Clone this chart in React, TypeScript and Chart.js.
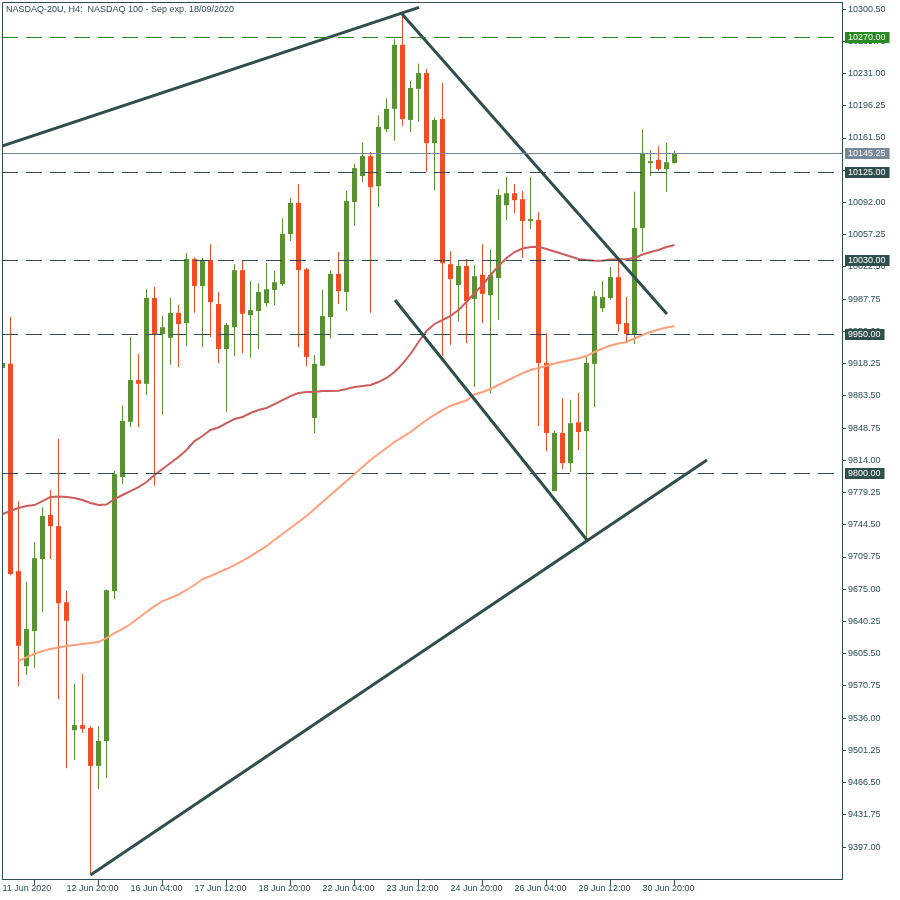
import React, { useEffect, useRef } from "react";
import { Chart, registerables } from "chart.js";

Chart.register(...registerables);

const title = "NASDAQ-20U, H4:  NASDAQ 100 - Sep exp. 18/09/2020";

const xTickIdx = [0, 8, 16, 24, 32, 40, 48, 56, 64, 72, 80];
const xTickLabels = [
  "11 Jun 2020", "12 Jun 20:00", "16 Jun 04:00", "17 Jun 12:00", "18 Jun 20:00",
  "22 Jun 04:00", "23 Jun 12:00", "24 Jun 20:00", "26 Jun 04:00", "29 Jun 12:00", "30 Jun 20:00",
];

const yTicks = [
  9397.0, 9431.75, 9466.5, 9501.25, 9536.0, 9570.75, 9605.5, 9640.25, 9675.0, 9709.75,
  9744.5, 9779.25, 9814.0, 9848.75, 9883.5, 9918.25, 9953.0, 9987.75, 10022.5, 10057.25,
  10092.0, 10126.75, 10161.5, 10196.25, 10231.0, 10265.75, 10300.5,
];

const opens = [
  9913.5, 9918, 9694.5, 9592, 9630, 9707.5, 9755, 9743, 9661, 9523,
  9528.5, 9525.5, 9484.5, 9511.5, 9673, 9796, 9855.5, 9900.5, 9896.5, 9989,
  9950, 9946, 9973, 9962, 10031, 10002, 10030, 9982.5, 9934, 9957.5,
  10019, 9970.5, 9975, 9983.5, 9997.5, 10004, 10058, 10091.5, 10020, 9859.5,
  9916, 9968.5, 10015, 9995.5, 10092.5, 10120.5, 10142, 10109.5, 10171, 10193,
  10262, 10181, 10214.5, 10231.5, 10156, 10182, 10025.5, 10003, 10023.5, 9988,
  10014, 9992, 10010.5, 10089, 10102, 10095.5, 10072, 10073, 9919, 9781,
  9843.5, 9811, 9855, 9845.5, 9918, 9978, 9989, 10011.5, 9962, 9950,
  10064.5, 10134.5, 10138, 10128, 10134.5,
];
const highs = [
  9921, 9968.5, 9770, 9683, 9726, 9763.5, 9782, 9837, 9673, 9573,
  9583.5, 9527.5, 9527.5, 9675, 9802.5, 9873.5, 9947, 9928.5, 9998.5, 10001,
  9969.5, 9989, 9981.5, 10037.5, 10033, 10032, 10047, 9995.5, 9962, 10025.5,
  10029, 10007.5, 10005, 10026.5, 10018, 10075, 10097, 10112, 10021.5, 9927.5,
  9997.5, 10019, 10038.5, 10104.5, 10133.5, 10157, 10146.5, 10186, 10204.5, 10268,
  10296.5, 10223, 10241.5, 10236, 10184, 10221, 10039.5, 10030, 10031, 10024.5,
  10047, 10041, 10106.5, 10119.5, 10112, 10104.5, 10119.5, 10081.5, 9951, 9845.5,
  9881, 9879, 9886.5, 9925.5, 9996.5, 10007.5, 10022.5, 10030, 9990, 10103.5,
  10171, 10148.5, 10153, 10156, 10148,
];
const lows = [
  9911, 9690, 9570.5, 9582.5, 9590, 9650.5, 9707.5, 9556.5, 9482, 9491,
  9520, 9369, 9459.5, 9471.5, 9664.5, 9788.5, 9850, 9850, 9884.5, 9786.5,
  9863, 9917, 9914.5, 9937, 9973, 9936, 9947, 9919, 9866, 9926.5,
  9929.5, 9924.5, 9934, 9979.5, 9981.5, 10002, 10050.5, 9936, 9915.5, 9843.5,
  9915.5, 9945, 9982.5, 9975, 10066.5, 10114, 9973, 10087, 10168, 10158.5,
  10174.5, 10168, 10179, 10125, 10105.5, 9926.5, 9938.5, 9964, 9940.5, 9893,
  9962, 9886.5, 9965.5, 10073, 10080.5, 10032, 10063.5, 9851, 9824, 9780.5,
  9804.5, 9801.5, 9825, 9729, 9871.5, 9974, 9987, 9952.5, 9942.5, 9939.5,
  10038.5, 10120.5, 10126, 10103.5, 10134,
];
const closes = [
  9919, 9691.5, 9614, 9632, 9708.5, 9754, 9743, 9660, 9641, 9528.5,
  9524.5, 9484.5, 9511.5, 9674, 9799, 9856.5, 9900.5, 9896.5, 9989, 9950,
  9957.5, 9973, 9961, 10031, 10002, 10030, 9984.5, 9934, 9960, 10019,
  9972, 9976, 9995.5, 9998.5, 10006, 10058, 10091.5, 10019, 9925.5, 9918,
  9969.5, 10015, 9996.5, 10093.5, 10129, 10142, 10108.5, 10173.5, 10193, 10262,
  10182, 10215.5, 10231.5, 10156, 10181, 10026.5, 10009.5, 10023.5, 9985.5, 10012.5,
  9993.5, 10014, 10100, 10102, 10094.5, 10072, 10074, 9919, 9843.5, 9843.5,
  9811, 9854, 9844.5, 9919, 9991, 9990, 10011.5, 9961, 9950, 10064.5,
  10145.5, 10136.5, 10128, 10135.5, 10145.25,
];

const maFast = [
  9756.1, 9759.4, 9762.6, 9764.7, 9765.8, 9770.1, 9774.5, 9775.0, 9774.5, 9773.4,
  9771.2, 9768.0, 9765.8, 9766.4, 9772.3, 9776.6, 9780.9, 9785.2, 9790.6, 9798.2,
  9804.6, 9811.1, 9817.6, 9825.1, 9834.8, 9840.2, 9846.7, 9849.4, 9854.2, 9858.5,
  9860.7, 9865.0, 9868.3, 9870.4, 9874.7, 9879.0, 9883.3, 9886.6, 9887.7, 9887.7,
  9888.7, 9888.7, 9889.1, 9890.9, 9893.1, 9894.1, 9895.2, 9898.4, 9902.8, 9909.2,
  9917.9, 9928.6, 9941.6, 9953.4, 9961.0, 9965.3, 9969.6, 9976.1, 9984.7, 9994.4,
  10003.0, 10013.8, 10023.5, 10032.1, 10038.6, 10042.4, 10044.0, 10044.3, 10041.8, 10039.1,
  10036.4, 10033.8, 10031.1, 10030.0, 10029.2, 10029.2, 10030.5, 10030.7, 10030.7, 10032.1,
  10035.9, 10038.6, 10040.8, 10044.0, 10046.2,
];
const maSlow = [
  null, null, 9597.6, 9601.9, 9605.2, 9608.4, 9610.6, 9612.2, 9613.8, 9614.9,
  9616.0, 9617.0, 9618.1, 9622.4, 9627.8, 9632.1, 9637.5, 9644.0, 9650.5, 9656.9,
  9662.3, 9665.6, 9669.3, 9674.2, 9679.6, 9686.0, 9689.3, 9693.1, 9696.8, 9701.1,
  9705.5, 9710.8, 9716.2, 9721.6, 9728.1, 9734.6, 9741.0, 9747.5, 9754.0, 9761.5,
  9769.1, 9776.6, 9784.2, 9791.7, 9799.3, 9806.8, 9814.3, 9820.8, 9827.3, 9833.8,
  9839.1, 9844.5, 9851.0, 9857.5, 9862.9, 9868.3, 9872.6, 9875.8, 9878.5, 9885.0,
  9887.7, 9890.9, 9895.2, 9899.5, 9903.8, 9908.1, 9911.4, 9913.5, 9916.0, 9918.4,
  9920.3, 9922.2, 9924.0, 9926.5, 9930.8, 9934.6, 9937.8, 9940.0, 9941.6, 9945.3,
  9949.1, 9952.4, 9955.0, 9957.2, 9958.8,
];

// trend lines: [bar index, price] pairs
const trendUpperLeft = [[-0.0625, 10152.9], [52.06, 10302.4]];
const trendFallHigh = [[49.94, 10295.2], [83.06, 9971.8]];
const trendFallLow = [[49.06, 9986.85], [73.06, 9728.1]];
const trendRiseLow = [[11.0, 9366.9], [88.06, 9814.3]];

const levels = [10270.0, 10125.0, 10030.0, 9950.0, 9800.0];
const levelColors = ["#2a8a22", "#2f4f4f", "#2f4f4f", "#2f4f4f", "#2f4f4f"];
const currentPrice = 10145.25;

const X_MIN = -0.0625;
const X_MAX = 104.9375;
const Y_MIN = 9362.6;
const Y_MAX = 10308.14;

const BULL = "#5a9132";
const BEAR = "#f44d26";
const SLATE = "#2f4f4f";
const FONT = "Liberation Sans";

const candleColor = (i: number) => (closes[i] >= opens[i] ? BULL : BEAR);

const decorPlugin = {
  id: "decor",
  afterDatasetsDraw(chart: any) {
    const { ctx, chartArea: a, scales } = chart;
    const ys = scales.y;
    ctx.save();
    ctx.beginPath();
    ctx.rect(a.left, a.top, a.right - a.left, a.bottom - a.top);
    ctx.clip();
    ctx.lineWidth = 1;
    levels.forEach((lv, k) => {
      const py = Math.round(ys.getPixelForValue(lv)) + 0.5;
      ctx.strokeStyle = levelColors[k];
      ctx.setLineDash([16, 8]);
      ctx.beginPath();
      ctx.moveTo(a.left, py);
      ctx.lineTo(a.right, py);
      ctx.stroke();
    });
    ctx.setLineDash([]);
    const cp = Math.round(ys.getPixelForValue(currentPrice)) + 0.5;
    ctx.strokeStyle = "#778899";
    ctx.beginPath();
    ctx.moveTo(a.left, cp);
    ctx.lineTo(a.right, cp);
    ctx.stroke();
    ctx.restore();
  },
  afterDraw(chart: any) {
    const { ctx, chartArea: a, scales } = chart;
    const ys = scales.y;
    ctx.save();
    // frame
    ctx.strokeStyle = SLATE;
    ctx.lineWidth = 1;
    ctx.beginPath();
    ctx.moveTo(a.left + 0.5, a.bottom);
    ctx.lineTo(a.left + 0.5, a.top + 0.5);
    ctx.lineTo(a.right, a.top + 0.5);
    ctx.stroke();
    // title
    ctx.font = `9px "${FONT}"`;
    ctx.fillStyle = SLATE;
    ctx.textBaseline = "middle";
    ctx.textAlign = "left";
    ctx.fillText(title, 6, 9.5);
    // price boxes
    const boxes: [number, string][] = levels.map((lv, k) => [lv, levelColors[k]]);
    boxes.push([currentPrice, "#778899"]);
    boxes.forEach(([v, col]) => {
      const py = Math.round(ys.getPixelForValue(v));
      const txt = v.toFixed(2);
      const w = ctx.measureText(txt).width;
      ctx.fillStyle = col;
      ctx.fillRect(a.right + 3, py - 5, w + 7, 11);
      ctx.fillStyle = "#ffffff";
      ctx.fillText(txt, a.right + 6, py + 0.5);
    });
    ctx.restore();
  },
};

export default function App() {
  const ref = useRef<HTMLCanvasElement | null>(null);
  useEffect(() => {
    if (!ref.current) return;
    Chart.defaults.font.family = FONT;
    Chart.defaults.font.size = 9;
    const idx = opens.map((_, i) => i);
    const lineDs = (pts: number[][], label: string) => ({
      type: "line" as const,
      label,
      data: pts.map(([x, y]) => ({ x, y })),
      borderColor: SLATE,
      borderWidth: 3,
      pointRadius: 0,
      tension: 0,
      clip: 0,
      order: 1,
    });
    const chart = new Chart(ref.current, {
      type: "bar",
      data: {
        datasets: [
          {
            type: "bar",
            label: "wick",
            data: idx.map((i) => ({ x: i, y: [lows[i], highs[i]] })) as any,
            backgroundColor: idx.map(candleColor),
            barThickness: 1,
            grouped: false,
            borderWidth: 0,
            inflateAmount: 0,
            minBarLength: 1,
            order: 20,
          } as any,
          {
            type: "bar",
            label: "body",
            data: idx.map((i) => ({ x: i, y: [opens[i], closes[i]] })) as any,
            backgroundColor: idx.map(candleColor),
            barThickness: 5,
            grouped: false,
            borderWidth: 0,
            inflateAmount: 0,
            minBarLength: 1,
            order: 19,
          } as any,
          {
            type: "line",
            label: "MA fast",
            data: idx.map((i) => ({ x: i, y: maFast[i] })),
            borderColor: "#cd5c5c",
            borderWidth: 2,
            pointRadius: 0,
            tension: 0,
            clip: 0,
            order: 5,
          } as any,
          {
            type: "line",
            label: "MA slow",
            data: idx.map((i) => ({ x: i, y: maSlow[i] })),
            borderColor: "#ffa07a",
            borderWidth: 2,
            pointRadius: 0,
            tension: 0,
            clip: 0,
            order: 6,
          } as any,
          lineDs(trendUpperLeft, "t1") as any,
          lineDs(trendFallHigh, "t2") as any,
          lineDs(trendFallLow, "t3") as any,
          lineDs(trendRiseLow, "t4") as any,
        ],
      },
      options: {
        responsive: false,
        animation: false,
        devicePixelRatio: 1,
        events: [],
        layout: { padding: { left: 2, top: 2, right: 0, bottom: 0 } },
        plugins: { legend: { display: false }, tooltip: { enabled: false } },
        scales: {
          x: {
            type: "linear",
            min: X_MIN,
            max: X_MAX,
            offset: false,
            position: "bottom",
            afterFit: (s: any) => {
              s.height = 21;
              s.paddingLeft = 0;
              s.paddingRight = 0;
              s.paddingTop = 0;
              s.paddingBottom = 0;
            },
            afterBuildTicks: (s: any) => {
              s.ticks = xTickIdx.map((v) => ({ value: v }));
            },
            grid: {
              display: true,
              drawOnChartArea: false,
              drawTicks: true,
              tickLength: 6,
              color: SLATE,
            },
            border: { display: true, color: SLATE, width: 1 },
            ticks: {
              autoSkip: false,
              maxRotation: 0,
              align: "start",
              padding: -2,
              color: SLATE,
              font: { family: FONT, size: 9 },
              callback: (v: any) => {
                const k = xTickIdx.indexOf(Number(v));
                return k >= 0 ? xTickLabels[k] : "";
              },
            },
          },
          y: {
            type: "linear",
            position: "right",
            min: Y_MIN,
            max: Y_MAX,
            afterFit: (s: any) => {
              s.width = 58;
              s.paddingTop = 0;
              s.paddingBottom = 0;
              s.paddingLeft = 0;
              s.paddingRight = 0;
            },
            afterBuildTicks: (s: any) => {
              s.ticks = yTicks.map((v) => ({ value: v }));
            },
            grid: {
              display: true,
              drawOnChartArea: false,
              drawTicks: true,
              tickLength: 4,
              color: SLATE,
            },
            border: { display: true, color: SLATE, width: 1 },
            ticks: {
              autoSkip: false,
              padding: 2,
              color: SLATE,
              font: { family: FONT, size: 9 },
              callback: (v: any) => Number(v).toFixed(2),
            },
          },
        },
      },
      plugins: [decorPlugin],
    } as any);
    return () => chart.destroy();
  }, []);
  return (
    <div style={{ position: "absolute", left: 0, top: 0, width: 900, height: 900, background: "#ffffff" }}>
      <canvas ref={ref} width={900} height={900} style={{ display: "block", width: 900, height: 900 }} />
    </div>
  );
}
